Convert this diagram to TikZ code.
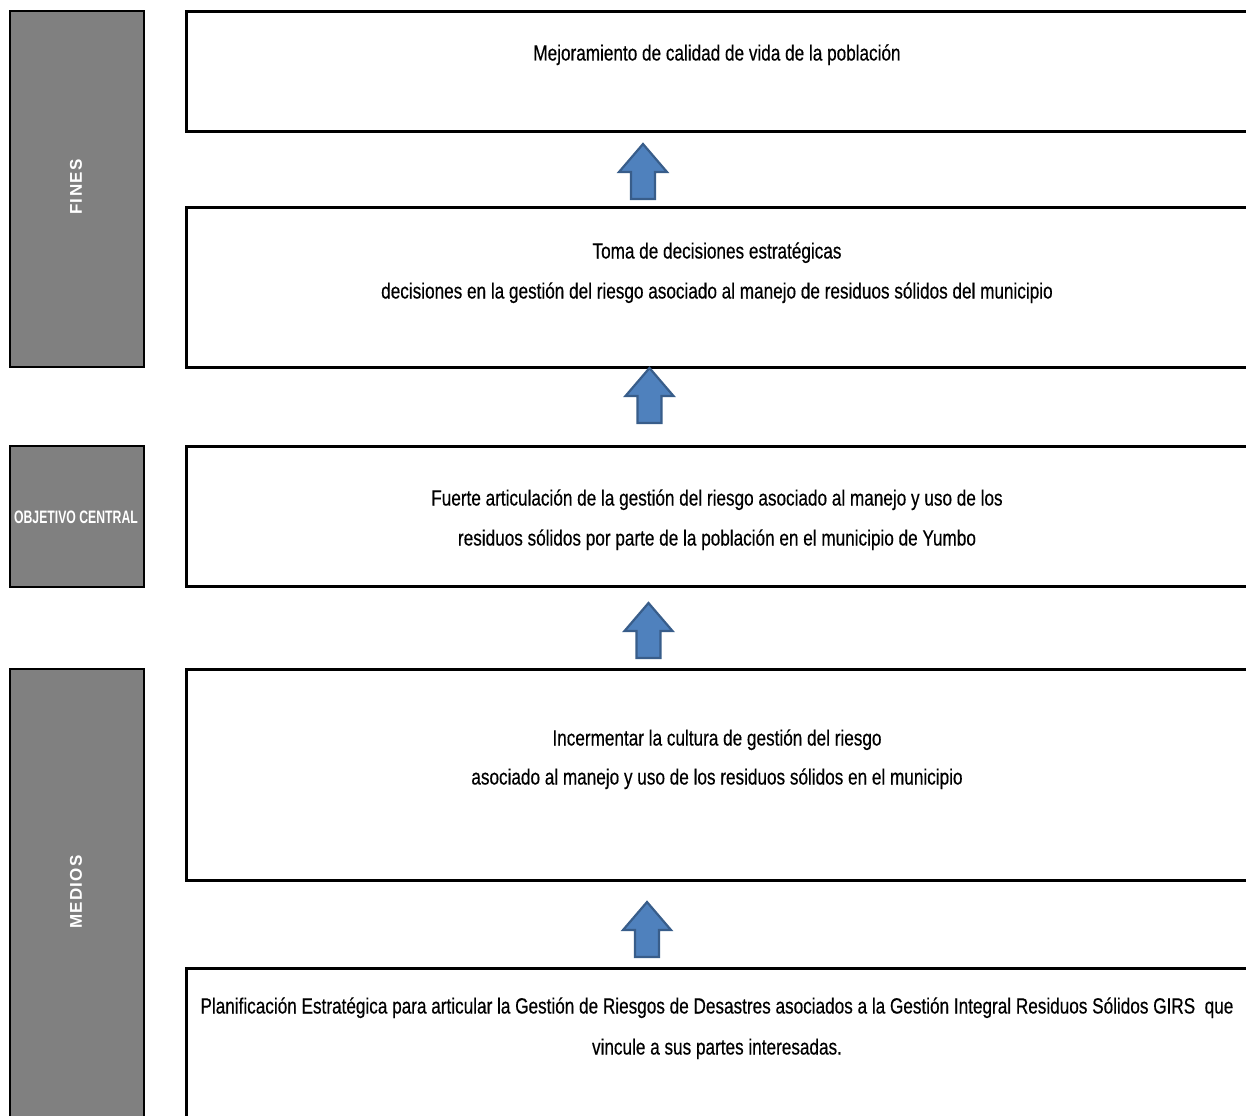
\documentclass[tikz,border=0pt]{standalone}
\usepackage{fontspec}
\setmainfont{Liberation Sans}
\newfontfamily\narrowfont{Liberation Sans}[FakeStretch=0.78, FakeBold=0.4]
\newfontfamily\nbfont{Liberation Sans}[FakeStretch=0.68]
\newfontfamily\spacedfont{Liberation Sans}[LetterSpace=8]
\definecolor{sidegray}{HTML}{808080}
\definecolor{arrowblue}{HTML}{4F81BD}
\definecolor{arrowedge}{HTML}{385D8A}
\begin{document}
\begin{tikzpicture}[x=1pt,y=-1pt,
  side/.style={draw=black, line width=2.4pt, fill=sidegray, anchor=north west, inner sep=0pt, minimum width=134pt},
  shadow/.style={fill=gray!70, draw=none, anchor=north west, inner sep=0pt, minimum width=134pt},
  box/.style={draw=black, line width=3pt, fill=white, anchor=north west, inner sep=0pt, minimum width=1064pt},
  txt/.style={anchor=base, inner sep=0pt, font=\narrowfont\fontsize{22}{26}\selectfont},
  sidelbl/.style={rotate=90, inner sep=0pt, text=white, font=\spacedfont\bfseries\fontsize{17}{19}\selectfont},
  blockarrow/.style={fill=arrowblue, draw=arrowedge, line width=2.2pt, line join=miter},
  uparrow/.pic={\draw[blockarrow] (-12,0) -- (-12,-27) -- (-24,-27) -- (0,-55) -- (24,-27) -- (12,-27) -- (12,0) -- cycle;}]
\useasboundingbox (0,0) rectangle (1246,1115);
\clip (0,0) rectangle (1246,1115);

% side bars
\node[shadow, minimum height=357pt] (s1) at (10.5,11) {};
\node[side, minimum height=356pt] (g1) at (9,10) {};
\node[shadow, minimum height=142pt] (s2) at (10.5,446) {};
\node[side, minimum height=141pt] (g2) at (9,445) {};
\node[shadow, minimum height=460pt] (s3) at (10.5,669) {};
\node[side, minimum height=460pt] (g3) at (9,668) {};

\node[sidelbl] (l1) at (76,187) {FINES};
\node[inner sep=0pt, text=white, font=\nbfont\bfseries\fontsize{18}{20}\selectfont] (l2) at (76,517) {OBJETIVO CENTRAL};
\node[sidelbl] (l3) at (76,892) {MEDIOS};

% content boxes
\node[box, minimum height=120pt] (b1) at (185,10) {};
\node[box, minimum height=160pt] (b2) at (185,206) {};
\node[box, minimum height=140pt] (b3) at (185,445) {};
\node[box, minimum height=211pt] (b4) at (185,668) {};
\node[box, minimum height=170pt] (b5) at (185,967) {};

% texts
\node[txt] (t1) at (717,60.5) {Mejoramiento de calidad de vida de la población};
\node[txt] (t2a) at (717,258.5) {Toma de decisiones estratégicas};
\node[txt] (t2b) at (717,298.5) {decisiones en la gestión del riesgo asociado al manejo de residuos sólidos del municipio};
\node[txt] (t3a) at (717,505.5) {Fuerte articulación de la gestión del riesgo asociado al manejo y uso de los};
\node[txt] (t3b) at (717,545.5) {residuos sólidos por parte de la población en el municipio de Yumbo};
\node[txt] (t4a) at (717,745.5) {Incermentar la cultura de gestión del riesgo};
\node[txt] (t4b) at (717,784.5) {asociado al manejo y uso de los residuos sólidos en el municipio};
\node[txt] (t5a) at (717,1013.5) {Planificación Estratégica para articular la Gestión de Riesgos de Desastres asociados a la Gestión Integral Residuos Sólidos GIRS~ que};
\node[txt] (t5b) at (717,1054.5) {vincule a sus partes interesadas.};

% block arrows
\pic (a1) at (643,199) {uparrow};
\pic (a2) at (649.5,423) {uparrow};
\pic (a3) at (648.5,658) {uparrow};
\pic (a4) at (647,957) {uparrow};
\end{tikzpicture}
\end{document}
